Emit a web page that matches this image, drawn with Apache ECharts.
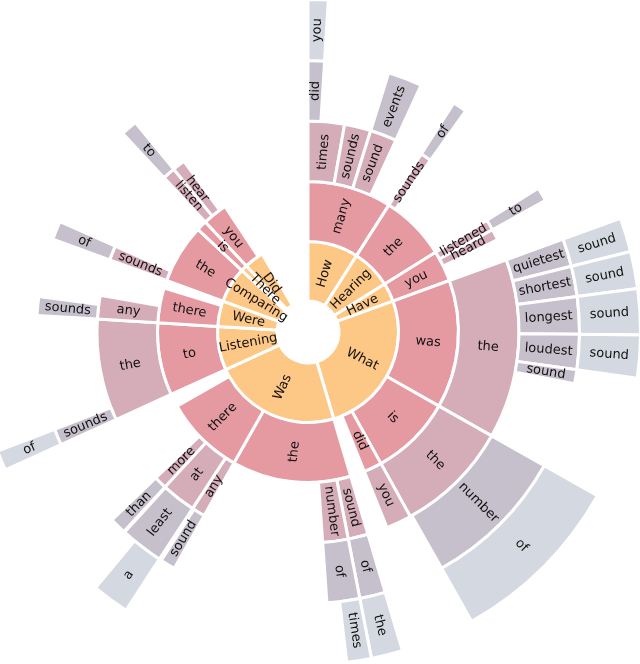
<!DOCTYPE html>
<html><head><meta charset="utf-8">
<script src="https://cdn.jsdelivr.net/npm/echarts@6/dist/echarts.min.js"></script>
<style>html,body{margin:0;padding:0;background:#fff}#c{width:640px;height:664px}</style>
</head><body><div id="c"></div>
<script>
// Values are angular shares in degrees (full circle = 360)
const level1Paths = ['How','Hearing','Have','What','Was','Listening','Were','Comparing','There','Did'];
const level1Values = [32.5,25.5,12,93.5,82,28,16.5,23,4,12.5];
const emptyShare = 30.5;

const level2Paths = ['How/many','Hearing/the','Have/you','What/was','What/is','What/did','Was/the','Was/there','Listening/to','Were/there','Comparing/the','There/is','Did/you'];
const level2Values = [32.5,25.5,12,49.5,31.5,7,46,31,28,13.5,23,4,9.5];

const level3Paths = ['How/many/times','How/many/sounds','How/many/sound','Hearing/the/sounds','Have/you/listened','Have/you/heard','What/was/the','What/is/the','What/did/you','Was/the/sound','Was/the/number','Was/there/any','Was/there/at','Was/there/more','Listening/to/the','Were/there/any','Comparing/the/sounds','Did/you/listen','Did/you/hear'];
const level3Values = [10,7.3,7.3,3,3,3,49.5,31.5,7,5.5,7,3.7,9.5,3.5,28,6.5,4,3.5,3.5];

const level4Paths = ['How/many/times/did','How/many/sound/events','Hearing/the/sounds/of','Have/you/listened/to','What/was/the/quietest','What/was/the/shortest','What/was/the/longest','What/was/the/loudest','What/was/the/sound','What/is/the/number','Was/the/sound/of','Was/the/number/of','Was/there/any/sound','Was/there/at/least','Was/there/more/than','Listening/to/the/sounds','Were/there/any/sounds','Comparing/the/sounds/of','Did/you/listen/to'];
const level4Values = [3.5,7.3,3,3,6,6.5,8,7.5,3,31,5.5,7,3.2,9.3,3.5,3.5,4,4,3.5];

const level5Paths = ['How/many/times/did/you','What/was/the/quietest/sound','What/was/the/shortest/sound','What/was/the/longest/sound','What/was/the/loudest/sound','What/is/the/number/of','Was/the/sound/of/the','Was/the/number/of/times','Was/there/at/least/a','Listening/to/the/sounds/of'];
const level5Values = [3.5,6,6.5,8,7.5,31,5.5,4.3,6.5,3.5];

const levelColors = ['#FDC785','#E59AA2','#D4ADB9','#C6BFCC','#D4D8E1'];
const ringRadii = [31, 90.5, 150.5, 211, 271.5, 332.5];

// build tree
const map = {};
const roots = [];
[[level1Paths,level1Values],[level2Paths,level2Values],[level3Paths,level3Values],[level4Paths,level4Values],[level5Paths,level5Values]].forEach(([paths, vals]) => {
  paths.forEach((p, i) => {
    const parts = p.split('/');
    const node = {name: parts[parts.length-1], value: vals[i], children: []};
    map[p] = node;
    if (parts.length === 1) roots.push(node);
    else map[parts.slice(0,-1).join('/')].children.push(node);
  });
});
roots.push({name:'', value: emptyShare, itemStyle:{color:'rgba(0,0,0,0)', borderWidth:0}, label:{show:false}});

const levels = [{}];
for (let i = 0; i < 5; i++) {
  levels.push({r0: ringRadii[i], r: ringRadii[i+1], itemStyle:{color: levelColors[i]}});
}

const chart = echarts.init(document.getElementById('c'), null, {renderer:'canvas'});
chart.setOption({
  animation: false,
  series: [{
    type: 'sunburst',
    center: [308, 332],
    radius: [31, 332.5],
    startAngle: 90,
    clockwise: true,
    sort: null,
    nodeClick: false,
    emphasis: {disabled: true},
    itemStyle: {borderColor: '#fff', borderWidth: 3},
    label: {rotate: 'radial', color: '#111', fontFamily: 'DejaVu Sans', fontSize: 13},
    levels: levels,
    data: roots
  }]
});
</script>
</body></html>
